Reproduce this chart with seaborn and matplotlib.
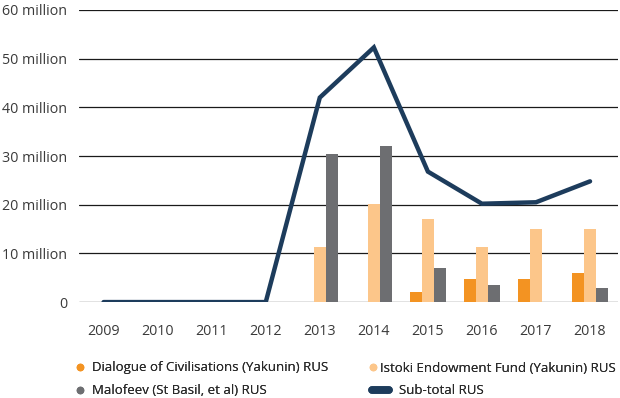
import pandas as pd
import matplotlib
matplotlib.use('Agg')
import matplotlib.pyplot as plt
import seaborn as sns
from matplotlib.lines import Line2D
from matplotlib.ticker import FuncFormatter

# Values in millions
years = [2009, 2010, 2011, 2012, 2013, 2014, 2015, 2016, 2017, 2018]
dialogue = [0, 0, 0, 0, 0, 0, 2.1, 4.8, 4.8, 6.0]
istoki = [0, 0, 0, 0, 11.4, 20.1, 17.0, 11.4, 15.1, 15.1]
malofeev = [0, 0, 0, 0, 30.4, 32.0, 7.1, 3.6, 0, 2.9]
subtotal = [0, 0, 0, 0, 42.0, 52.3, 26.8, 20.2, 20.5, 24.8]

series_names = ['Dialogue of Civilisations (Yakunin) RUS',
                'Istoki Endowment Fund (Yakunin) RUS',
                'Malofeev (St Basil, et al) RUS']
line_name = 'Sub-total RUS'
colors = ['#F39322', '#FCC68A', '#6D6E71']
line_color = '#1D3C5C'

bars = pd.DataFrame({
    'year': years * 3,
    'value': dialogue + istoki + malofeev,
    'series': [series_names[0]] * 10 + [series_names[1]] * 10 + [series_names[2]] * 10,
})

sns.set_style('white')
plt.rcParams['font.family'] = ['Open Sans', 'DejaVu Sans']

fig = plt.figure(figsize=(6.2, 3.98), dpi=100)
ax = fig.add_axes([0.127, 0.241, 0.87, 0.734])

sns.barplot(data=bars, x='year', y='value', hue='series', palette=colors,
            saturation=1, width=0.67, linewidth=0, legend=False, ax=ax, zorder=2)
sns.lineplot(x=range(len(years)), y=subtotal, color=line_color, linewidth=3.2,
             solid_capstyle='round', solid_joinstyle='miter', ax=ax, zorder=3)

ax.set_xlim(-0.46, 9.52)
ax.set_ylim(0, 60)
ax.set_yticks(range(0, 61, 10))
ax.yaxis.set_major_formatter(FuncFormatter(lambda v, p: '0' if v == 0 else f'{v:.0f} million'))
ax.grid(axis='y', color='#1a1a1a', linewidth=0.9, zorder=0)
ax.set_axisbelow(True)
for s in ax.spines.values():
    s.set_visible(False)
ax.tick_params(axis='y', length=0, pad=8.5, labelsize=10.3, labelcolor='#3a3a3a')
ax.tick_params(axis='x', length=0, pad=16, labelsize=10.3, labelcolor='#3a3a3a')
ax.set_xlabel('')
ax.set_ylabel('')

# legend: one entry per box so the loose layout of the original can be kept
W, H = 620, 398
entries = [
    (Line2D([], [], marker='o', linestyle='', color=colors[0], markersize=4.5), series_names[0], 76.7, 368, 0.5, 0.66),
    (Line2D([], [], marker='o', linestyle='', color=colors[2], markersize=4.5), series_names[2], 76.7, 391, 0.5, 0.66),
    (Line2D([], [], marker='o', linestyle='', color=colors[1], markersize=4.5), series_names[1], 369.4, 368, 0.5, 0.3),
    (Line2D([], [], color=line_color, linewidth=5.5, solid_capstyle='round'), line_name, 371.8, 391, 1.32, 0.74),
]
for h, lab, px, py, hl, pad in entries:
    leg = fig.legend([h], [lab], loc='center left', bbox_to_anchor=(px / W, 1 - py / H),
                     frameon=False, fontsize=9.5, handlelength=hl, handletextpad=pad,
                     borderaxespad=0, borderpad=0, labelcolor='#2a2a2a')
    fig.add_artist(leg)

fig.savefig('out.png', dpi=100)
